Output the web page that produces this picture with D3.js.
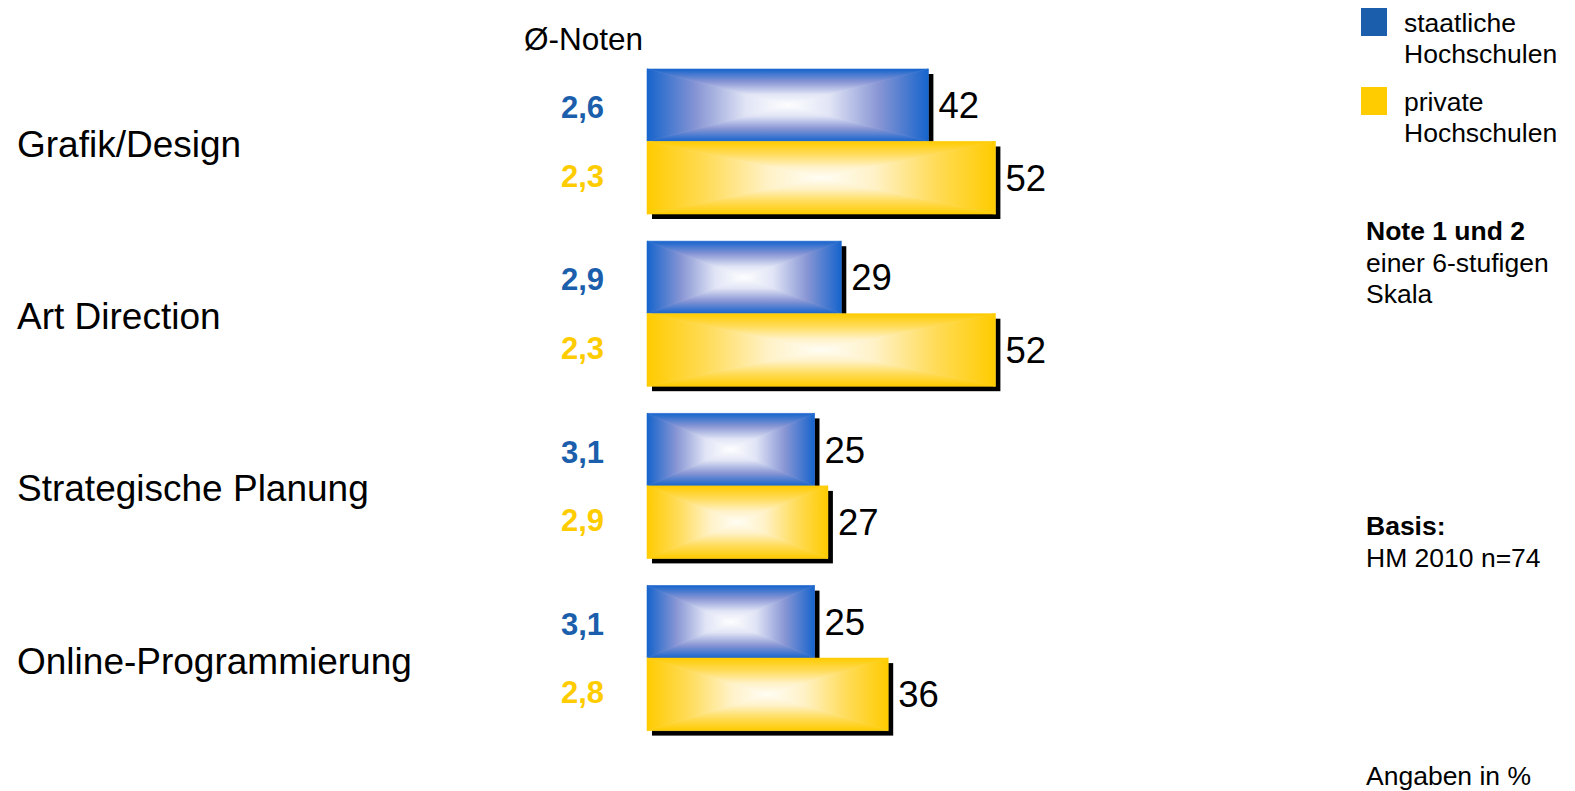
<!DOCTYPE html>
<html>
<head>
<meta charset="utf-8">
<script src="https://cdn.jsdelivr.net/npm/d3@7"></script>
<style>
  html, body { margin: 0; padding: 0; background: #ffffff; }
  svg { display: block; font-family: "Liberation Sans", Arial, Helvetica, sans-serif; }
</style>
</head>
<body>
<svg id="chart" width="1575" height="791"></svg>
<script>
// Bewertung der Ausbildung nach Fachgebiet (Note 1 und 2, Angaben in %)
const categories = ["Grafik/Design", "Art Direction", "Strategische Planung", "Online-Programmierung"];
const seriesNames = ["staatliche Hochschulen", "private Hochschulen"];
const staatlicheWerte = [42, 29, 25, 25];
const privateWerte = [52, 52, 27, 36];
const staatlicheNoten = ["2,6", "2,9", "3,1", "3,1"];
const privateNoten = ["2,3", "2,3", "2,9", "2,8"];

const seriesKeys = ["staatlich", "privat"];
const seriesStyle = {
  staatlich: {
    stops: [[0, "#1664cc"], [0.35, "#8795d4"], [0.7, "#e0e4f5"], [1, "#ffffff"]],
    base: "#c8cdec", legend: "#1b5eab", label: "#1b5eab"
  },
  privat: {
    stops: [[0, "#ffcb00"], [0.35, "#ffdc5a"], [0.7, "#fff2c8"], [1, "#fffdf5"]],
    base: "#ffeeb8", legend: "#ffcc00", label: "#ffcc00"
  }
};

const rows = categories.map((c, i) => ({
  category: c,
  bars: [
    { key: "staatlich", value: staatlicheWerte[i], note: staatlicheNoten[i] },
    { key: "privat", value: privateWerte[i], note: privateNoten[i] }
  ]
}));

const svg = d3.select("#chart");

// Scales
const x = d3.scaleLinear().domain([0, 100]).range([647, 1317]);
const y = d3.scaleBand().domain(categories).range([69, 730.6]).paddingInner(0.158).paddingOuter(0);
const ySub = d3.scaleBand().domain(seriesKeys).range([0, y.bandwidth()]).padding(0);

// Rectangular "from center" gradients, built from four triangles each
const defs = svg.append("defs");
const dirs = {
  top:    { x1: 0, y1: 0, x2: 0, y2: 1 },
  bottom: { x1: 0, y1: 1, x2: 0, y2: 0 },
  left:   { x1: 0, y1: 0, x2: 1, y2: 0 },
  right:  { x1: 1, y1: 0, x2: 0, y2: 0 }
};
seriesKeys.forEach(k => {
  const st = seriesStyle[k];
  Object.entries(dirs).forEach(([d, v]) => {
    const g = defs.append("linearGradient")
      .attr("id", `grad-${k}-${d}`)
      .attr("x1", v.x1).attr("y1", v.y1).attr("x2", v.x2).attr("y2", v.y2);
    st.stops.forEach(([o, c]) => g.append("stop").attr("offset", o).attr("stop-color", c));
  });
});

const shadowOffset = 5;

const groups = svg.append("g").selectAll("g.cat")
  .data(rows)
  .join("g")
  .attr("class", "cat")
  .attr("transform", d => `translate(0,${y(d.category)})`);

// Category labels
groups.append("text")
  .attr("x", 17)
  .attr("y", y.bandwidth() / 2 + 15.5)
  .attr("font-size", 37)
  .attr("fill", "#000")
  .text(d => d.category);

const bars = groups.selectAll("g.bar")
  .data(d => d.bars)
  .join("g")
  .attr("class", "bar")
  .attr("transform", d => `translate(0,${ySub(d.key)})`);

const h = ySub.bandwidth();

// Drop shadow
bars.append("rect")
  .attr("x", x(0) + shadowOffset)
  .attr("y", shadowOffset)
  .attr("width", d => x(d.value) - x(0))
  .attr("height", h)
  .attr("fill", "#000");

// Base fill beneath the gradient triangles
bars.append("rect")
  .attr("x", x(0))
  .attr("y", 0)
  .attr("width", d => x(d.value) - x(0))
  .attr("height", h)
  .attr("fill", d => seriesStyle[d.key].base);

// Four gradient triangles per bar
bars.each(function(d) {
  const g = d3.select(this);
  const x0 = x(0), x1 = x(d.value), cx = (x0 + x1) / 2, cy = h / 2;
  const tris = {
    top:    [[x0, 0], [x1, 0], [cx, cy]],
    bottom: [[x0, h], [x1, h], [cx, cy]],
    left:   [[x0, 0], [x0, h], [cx, cy]],
    right:  [[x1, 0], [x1, h], [cx, cy]]
  };
  Object.entries(tris).forEach(([dname, pts]) => {
    g.append("path")
      .attr("d", "M" + pts.map(p => p.join(",")).join("L") + "Z")
      .attr("fill", `url(#grad-${d.key}-${dname})`)
      .attr("stroke", `url(#grad-${d.key}-${dname})`)
      .attr("stroke-width", 0.6);
  });
});

// Value labels
bars.append("text")
  .attr("x", d => x(d.value) + 10)
  .attr("y", h / 2 + 13)
  .attr("font-size", 36.5)
  .attr("fill", "#000")
  .text(d => d.value);

// Average grades
bars.append("text")
  .attr("x", 604)
  .attr("y", d => h / 2 + (d.key === "staatlich" ? 13 : 9))
  .attr("text-anchor", "end")
  .attr("font-size", 31)
  .attr("font-weight", "bold")
  .attr("fill", d => seriesStyle[d.key].label)
  .text(d => d.note);

// Column header
svg.append("text")
  .attr("x", 524)
  .attr("y", 50)
  .attr("font-size", 31.5)
  .attr("fill", "#000")
  .text("Ø-Noten");

// Legend
const legend = svg.append("g").attr("transform", "translate(1361,0)");
const legendItems = legend.selectAll("g")
  .data(seriesKeys.map((k, i) => ({ key: k, name: seriesNames[i] })))
  .join("g")
  .attr("transform", (d, i) => `translate(0,${8 + i * 79})`);
legendItems.append("rect")
  .attr("width", 26).attr("height", 28)
  .attr("fill", d => seriesStyle[d.key].legend);
legendItems.append("text")
  .attr("x", 43)
  .attr("font-size", 26.5)
  .attr("fill", "#000")
  .selectAll("tspan")
  .data(d => d.name.split(" "))
  .join("tspan")
  .attr("x", 43)
  .attr("y", (d, i) => 23.5 + i * 31.5)
  .text(d => d);

// Side notes
function noteBlock(lines, x0, y0) {
  const t = svg.append("text").attr("font-size", 26.5).attr("fill", "#000");
  lines.forEach((l, i) => {
    t.append("tspan")
      .attr("x", x0)
      .attr("y", y0 + i * 31.5)
      .attr("font-weight", l.bold ? "bold" : "normal")
      .text(l.text);
  });
}
noteBlock([{ text: "Note 1 und 2", bold: true }, { text: "einer 6-stufigen" }, { text: "Skala" }], 1366, 240);
noteBlock([{ text: "Basis:", bold: true }, { text: "HM 2010 n=74" }], 1366, 535);
noteBlock([{ text: "Angaben in %" }], 1366, 785);
</script>
</body>
</html>
